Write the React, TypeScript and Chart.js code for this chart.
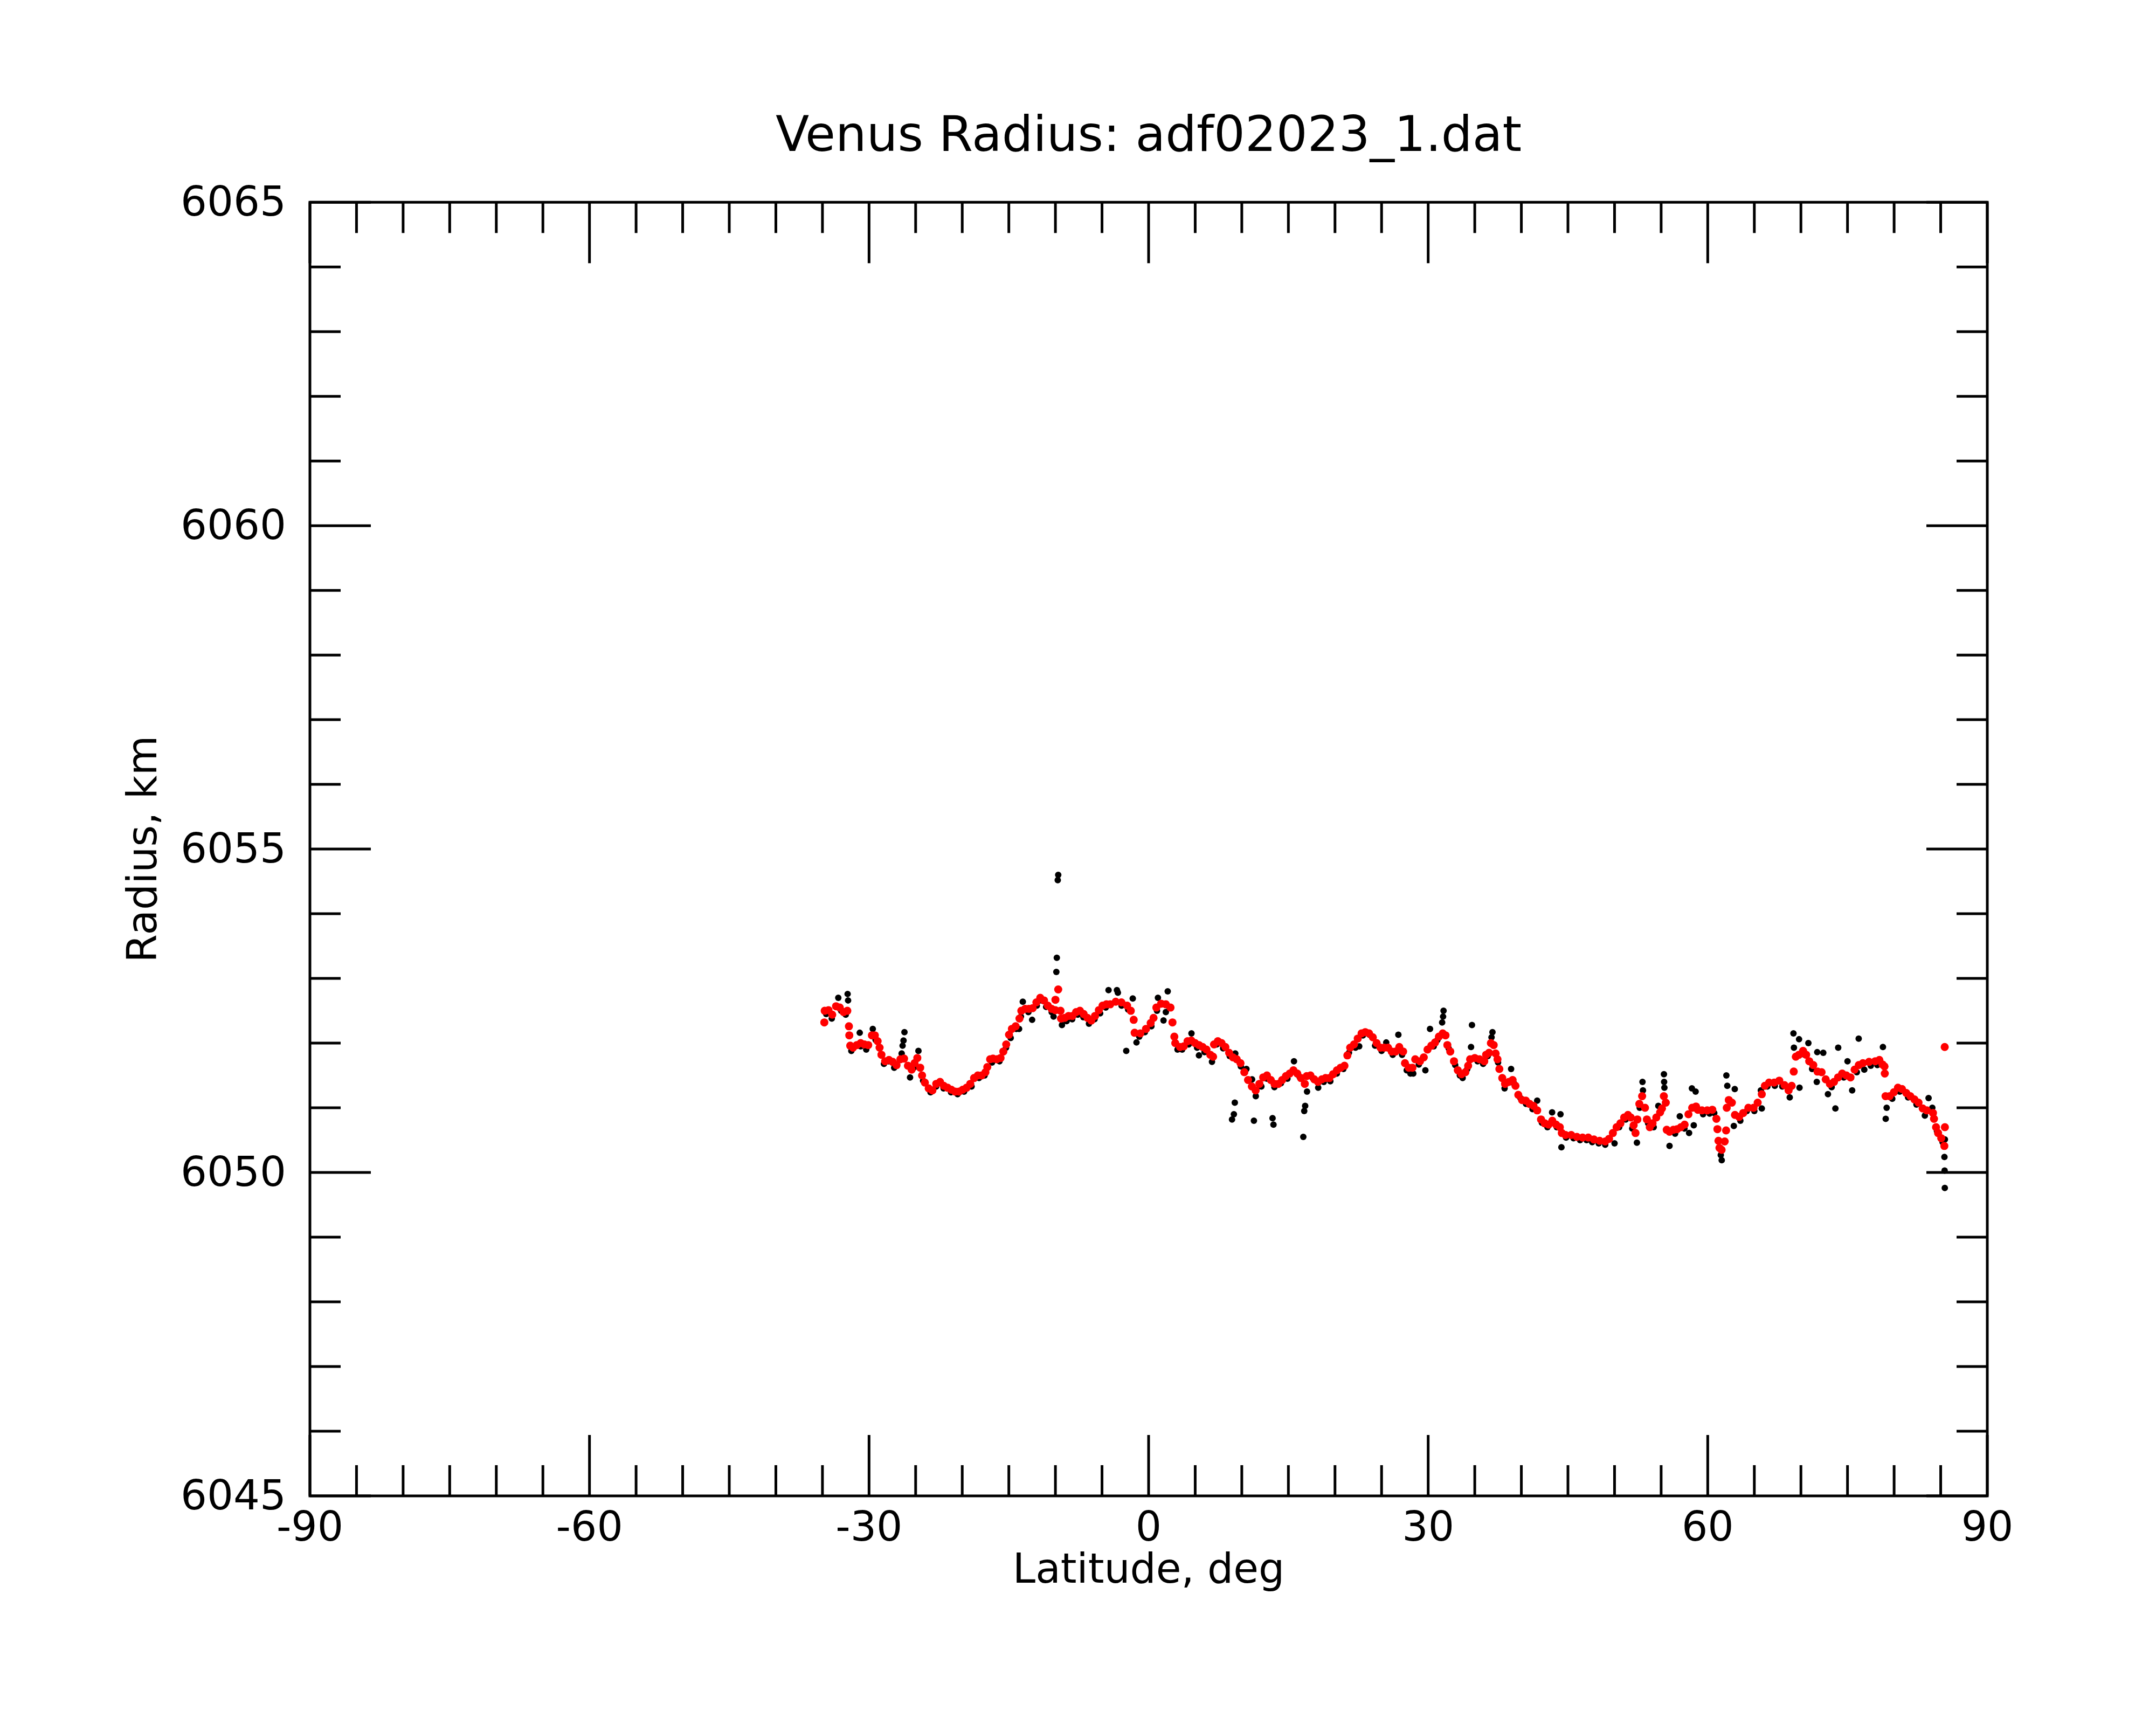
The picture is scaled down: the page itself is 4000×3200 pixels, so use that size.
import { useEffect, useRef } from "react";
import { Chart, registerables } from "chart.js";
import type { Plugin } from "chart.js";

Chart.register(...registerables);

const TITLE = "Venus Radius: adf02023_1.dat";
const X_TITLE = "Latitude, deg";
const Y_TITLE = "Radius, km";
const FONT = "'DejaVu Sans', 'Noto Sans', sans-serif";

// smoothed profile (red)
const smoothLat = [
  -34.8, -34.76, -34.35, -33.95, -33.54, -33.14, -32.73, -32.33, -32.16, -32.12,
  -32.02, -31.72, -31.31, -30.9, -30.5, -30.09, -29.69, -29.38, -29.08, -28.87,
  -28.67, -28.27, -27.86, -27.46, -27.05, -26.64, -26.24, -25.83, -25.43, -25.12,
  -24.82, -24.51, -24.31, -24.01, -23.6, -23.2, -22.79, -22.38, -21.98, -21.57,
  -21.17, -20.76, -20.35, -19.95, -19.54, -19.14, -18.73, -18.33, -17.92, -17.51,
  -17.31, -17.01, -16.7, -16.3, -15.89, -15.59, -15.28, -14.98, -14.67, -14.27,
  -13.86, -13.66, -13.25, -12.85, -12.44, -12.04, -11.63, -11.22, -10.82, -10.41,
  -10.01, -10.0, -9.7, -9.45, -9.4, -9.0, -8.59, -8.18, -7.78, -7.37,
  -6.97, -6.56, -6.15, -5.75, -5.34, -4.94, -4.53, -4.12, -3.53, -2.92,
  -2.31, -1.91, -1.6, -1.5, -0.89, -0.28, 0.22, 0.53, 0.83, 1.34,
  1.85, 2.35, 2.56, 2.76, 2.86, 3.37, 3.77, 4.18, 4.59, 4.99,
  5.4, 5.8, 6.21, 6.62, 6.92, 7.02, 7.43, 7.83, 8.24, 8.64,
  9.05, 9.46, 9.86, 10.27, 10.67, 11.08, 11.49, 11.89, 12.3, 12.7,
  13.11, 13.51, 13.92, 14.33, 14.73, 15.14, 15.54, 15.95, 16.35, 16.76,
  16.96, 17.37, 17.78, 18.18, 18.59, 18.99, 19.4, 19.8, 20.21, 20.61,
  21.02, 21.33, 21.63, 22.04, 22.44, 22.85, 23.25, 23.66, 24.06, 24.47,
  24.88, 25.28, 25.69, 26.09, 26.5, 26.9, 27.31, 27.51, 27.92, 28.31,
  28.61, 29.12, 29.53, 29.93, 30.34, 30.74, 31.15, 31.56, 31.86, 32.06,
  32.37, 32.77, 33.18, 33.58, 33.99, 34.29, 34.5, 35.0, 35.51, 36.02,
  36.22, 36.53, 36.73, 37.03, 37.24, 37.44, 37.64, 37.95, 38.25, 38.66,
  39.06, 39.37, 39.67, 40.08, 40.48, 40.89, 41.3, 41.7, 42.11, 42.51,
  42.92, 43.32, 43.73, 44.13, 44.34, 44.74, 45.35, 45.96, 46.57, 47.18,
  47.79, 48.4, 49.0, 49.41, 49.82, 50.22, 50.63, 51.03, 51.44, 51.74,
  52.05, 52.25, 52.45, 52.66, 52.96, 53.27, 53.47, 53.78, 54.08, 54.48,
  54.89, 55.09, 55.29, 55.5, 55.6, 55.9, 56.31, 56.71, 57.12, 57.52,
  57.93, 58.33, 58.74, 58.94, 59.38, 59.94, 60.49, 60.93, 61.04, 61.15,
  61.26, 61.49, 61.82, 61.97, 62.04, 62.26, 62.59, 62.92, 63.37, 63.81,
  64.36, 64.92, 65.36, 65.8, 66.13, 66.58, 67.13, 67.68, 68.24, 68.68,
  69.01, 69.23, 69.45, 69.79, 70.23, 70.56, 70.89, 71.33, 71.78, 72.22,
  72.66, 73.11, 73.55, 73.99, 74.43, 74.88, 75.32, 75.76, 76.21, 76.65,
  77.31, 77.98, 78.42, 78.75, 78.97, 79.0, 79.08, 79.52, 79.97, 80.41,
  80.85, 81.3, 81.74, 82.18, 82.62, 83.07, 83.51, 84.17, 84.28, 84.5,
  84.72, 85.06, 85.39, 85.45, 85.43,
];
const smoothRadius = [
  6052.32, 6052.5, 6052.51, 6052.44, 6052.57, 6052.55, 6052.48, 6052.5, 6052.26, 6052.12,
  6051.96, 6051.93, 6051.97, 6052.0, 6051.98, 6051.97, 6052.12, 6052.12, 6052.03, 6051.93,
  6051.82, 6051.72, 6051.74, 6051.71, 6051.66, 6051.75, 6051.76, 6051.65, 6051.59, 6051.69,
  6051.77, 6051.62, 6051.5, 6051.39, 6051.3, 6051.27, 6051.37, 6051.4, 6051.34, 6051.31,
  6051.28, 6051.25, 6051.25, 6051.28, 6051.31, 6051.37, 6051.46, 6051.5, 6051.5, 6051.55,
  6051.63, 6051.75, 6051.76, 6051.75, 6051.77, 6051.87, 6051.98, 6052.13, 6052.22, 6052.26,
  6052.38, 6052.5, 6052.53, 6052.53, 6052.54, 6052.63, 6052.7, 6052.66, 6052.58, 6052.53,
  6052.51, 6052.67, 6052.83, 6052.5, 6052.38, 6052.39, 6052.42, 6052.42, 6052.48, 6052.5,
  6052.45, 6052.39, 6052.35, 6052.42, 6052.51, 6052.58, 6052.6, 6052.6, 6052.64, 6052.63,
  6052.58, 6052.5, 6052.36, 6052.16, 6052.15, 6052.22, 6052.31, 6052.39, 6052.55, 6052.61,
  6052.6, 6052.55, 6052.32, 6052.1, 6052.0, 6051.94, 6051.95, 6052.03, 6052.04, 6052.0,
  6051.97, 6051.94, 6051.9, 6051.82, 6051.79, 6051.98, 6052.03, 6052.0, 6051.94, 6051.85,
  6051.78, 6051.75, 6051.69, 6051.55, 6051.43, 6051.33, 6051.27, 6051.37, 6051.47, 6051.5,
  6051.43, 6051.37, 6051.37, 6051.43, 6051.49, 6051.53, 6051.58, 6051.53, 6051.46, 6051.37,
  6051.49, 6051.5, 6051.44, 6051.4, 6051.44, 6051.46, 6051.46, 6051.52, 6051.58, 6051.62,
  6051.65, 6051.81, 6051.93, 6051.98, 6052.07, 6052.15, 6052.17, 6052.15, 6052.09, 6052.0,
  6051.93, 6051.93, 6051.93, 6051.87, 6051.87, 6051.94, 6051.87, 6051.69, 6051.62, 6051.62,
  6051.75, 6051.72, 6051.78, 6051.9, 6051.96, 6052.01, 6052.1, 6052.15, 6052.12, 6051.97,
  6051.87, 6051.72, 6051.58, 6051.52, 6051.55, 6051.65, 6051.75, 6051.77, 6051.75, 6051.72,
  6051.82, 6051.85, 6052.0, 6051.97, 6051.84, 6051.75, 6051.6, 6051.46, 6051.37, 6051.4,
  6051.43, 6051.34, 6051.2, 6051.12, 6051.11, 6051.06, 6051.03, 6050.96, 6050.82, 6050.76,
  6050.74, 6050.8, 6050.74, 6050.7, 6050.61, 6050.58, 6050.58, 6050.55, 6050.54, 6050.54,
  6050.51, 6050.49, 6050.48, 6050.52, 6050.61, 6050.7, 6050.76, 6050.85, 6050.89, 6050.85,
  6050.73, 6050.61, 6050.82, 6051.06, 6051.18, 6051.0, 6050.82, 6050.7, 6050.76, 6050.85,
  6050.93, 6050.99, 6051.18, 6051.08, 6050.66, 6050.63, 6050.66, 6050.67, 6050.7, 6050.74,
  6050.9, 6051.0, 6051.02, 6050.97, 6050.96, 6050.96, 6050.97, 6050.83, 6050.67, 6050.49,
  6050.38, 6050.35, 6050.48, 6050.65, 6051.0, 6051.12, 6051.08, 6050.89, 6050.86, 6050.92,
  6051.0, 6051.0, 6051.08, 6051.21, 6051.34, 6051.39, 6051.39, 6051.42, 6051.35, 6051.27,
  6051.34, 6051.56, 6051.79, 6051.82, 6051.88, 6051.82, 6051.72, 6051.66, 6051.56, 6051.55,
  6051.44, 6051.37, 6051.4, 6051.47, 6051.53, 6051.5, 6051.47, 6051.59, 6051.66, 6051.69,
  6051.71, 6051.72, 6051.74, 6051.67, 6051.64, 6051.53, 6051.18, 6051.18, 6051.24, 6051.31,
  6051.29, 6051.23, 6051.18, 6051.13, 6051.08, 6050.99, 6050.96, 6050.92, 6050.83, 6050.7,
  6050.61, 6050.53, 6050.41, 6050.7, 6051.94,
];

// raw measurements (black)
const rawLat = [
  -34.6, -34.0, -33.3, -33.0, -32.5, -32.3, -32.25, -31.9, -31.0, -30.9,
  -30.3, -29.6, -29.3, -28.4, -27.9, -27.3, -26.5, -26.4, -26.3, -26.2,
  -25.6, -25.2, -24.7, -24.2, -23.4, -22.8, -22.0, -21.2, -20.5, -19.8,
  -19.0, -18.2, -17.6, -16.8, -16.0, -15.3, -14.8, -14.2, -13.9, -13.7,
  -13.5, -12.9, -12.5, -12.0, -11.5, -11.0, -10.4, -10.2, -9.9, -9.85,
  -9.75, -9.7, -9.3, -8.8, -8.2, -7.6, -7.0, -6.4, -5.8, -5.2,
  -4.6, -4.3, -3.4, -3.3, -2.9, -2.4, -2.2, -1.7, -1.3, -1.0,
  -0.4, 0.3, 0.9, 1.0, 1.6, 1.85, 2.05, 2.2, 3.1, 3.6,
  4.3, 4.6, 5.2, 5.4, 6.0, 6.8, 7.3, 8.0, 8.7, 8.95,
  9.15, 9.25, 9.3, 9.9, 10.5, 11.1, 11.3, 11.5, 12.1, 12.7,
  13.3, 13.4, 13.5, 14.2, 14.9, 15.6, 16.2, 16.6, 16.7, 16.8,
  17.0, 17.6, 18.2, 18.8, 19.5, 20.2, 20.9, 21.5, 22.2, 22.6,
  23.0, 23.7, 24.3, 25.0, 25.5, 26.2, 26.8, 27.2, 27.7, 28.1,
  28.4, 29.0, 29.7, 30.2, 30.6, 31.0, 31.5, 31.6, 31.65, 32.2,
  32.9, 33.4, 33.7, 34.2, 34.6, 34.7, 35.3, 35.9, 36.4, 36.8,
  36.9, 37.5, 38.2, 38.9, 39.2, 39.9, 40.5, 41.2, 41.7, 42.2,
  42.8, 43.3, 43.8, 44.2, 44.3, 44.8, 45.6, 46.3, 47.0, 47.6,
  48.3, 49.0, 50.0, 50.5, 51.2, 51.9, 52.4, 52.7, 53.0, 53.05,
  53.6, 54.2, 54.7, 55.3, 55.32, 55.35, 55.9, 56.5, 57.0, 57.5,
  58.0, 58.3, 58.5, 58.7, 59.5, 60.2, 60.7, 61.4, 61.5, 62.0,
  62.1, 62.8, 62.9, 63.5, 64.2, 65.0, 65.7, 65.8, 66.4, 67.2,
  68.0, 68.8, 69.2, 69.25, 69.8, 69.85, 70.4, 70.8, 71.2, 71.7,
  71.75, 72.4, 72.9, 73.3, 73.7, 74.0, 74.6, 75.0, 75.5, 76.0,
  76.2, 76.8, 77.5, 78.2, 78.8, 79.1, 79.2, 79.8, 80.6, 81.5,
  82.4, 83.3, 83.7, 84.1, 84.6, 85.2, 85.4, 85.42, 85.44, 85.45,
];
const rawRadius = [
  6052.45, 6052.38, 6052.7, 6052.5, 6052.44, 6052.76, 6052.66, 6051.88, 6052.16, 6051.95,
  6051.9, 6052.22, 6052.05, 6051.68, 6051.72, 6051.62, 6051.84, 6051.96, 6052.04, 6052.17,
  6051.47, 6051.62, 6051.88, 6051.42, 6051.24, 6051.33, 6051.3, 6051.24, 6051.21, 6051.25,
  6051.33, 6051.46, 6051.5, 6051.7, 6051.72, 6051.93, 6052.08, 6052.22, 6052.22, 6052.41,
  6052.64, 6052.48, 6052.36, 6052.58, 6052.66, 6052.56, 6052.48, 6052.41, 6053.1, 6053.32,
  6054.52, 6054.6, 6052.28, 6052.34, 6052.37, 6052.44, 6052.4, 6052.3, 6052.37, 6052.46,
  6052.55, 6052.82, 6052.82, 6052.78, 6052.58, 6051.88, 6052.52, 6052.69, 6052.01, 6052.1,
  6052.17, 6052.26, 6052.5, 6052.7, 6052.35, 6052.48, 6052.8, 6052.56, 6051.9, 6051.9,
  6051.98, 6052.15, 6051.93, 6051.81, 6051.86, 6051.71, 6051.98, 6051.92, 6051.8, 6050.82,
  6050.9, 6051.08, 6051.84, 6051.64, 6051.6, 6051.44, 6050.8, 6051.18, 6051.33, 6051.45,
  6050.84, 6050.74, 6051.32, 6051.38, 6051.45, 6051.72, 6051.48, 6050.55, 6050.95, 6051.03,
  6051.25, 6051.46, 6051.31, 6051.4, 6051.41, 6051.53, 6051.6, 6051.85, 6051.93, 6051.95,
  6052.12, 6052.13, 6051.96, 6051.88, 6052.01, 6051.82, 6052.13, 6051.82, 6051.58, 6051.53,
  6051.53, 6051.67, 6051.58, 6052.22, 6051.95, 6052.05, 6052.32, 6052.41, 6052.5, 6051.92,
  6051.66, 6051.5, 6051.46, 6051.6, 6051.94, 6052.28, 6051.72, 6051.68, 6051.8, 6052.09,
  6052.17, 6051.7, 6051.3, 6051.6, 6051.38, 6051.15, 6051.06, 6050.98, 6051.11, 6050.77,
  6050.7, 6050.93, 6050.7, 6050.9, 6050.39, 6050.54, 6050.53, 6050.5, 6050.5, 6050.47,
  6050.45, 6050.43, 6050.45, 6050.7, 6050.82, 6050.68, 6050.46, 6051.0, 6051.4, 6051.27,
  6050.76, 6050.7, 6051.03, 6051.52, 6051.4, 6051.31, 6050.41, 6050.6, 6050.87, 6050.68,
  6050.61, 6051.3, 6050.73, 6051.25, 6050.9, 6050.91, 6050.92, 6050.27, 6050.19, 6051.5,
  6051.34, 6050.72, 6051.29, 6050.8, 6050.95, 6050.95, 6051.27, 6050.99, 6051.33, 6051.34,
  6051.33, 6051.16, 6052.15, 6051.93, 6052.06, 6051.31, 6051.82, 6052.0, 6051.6, 6051.4,
  6051.86, 6051.85, 6051.21, 6051.32, 6050.99, 6051.93, 6051.47, 6051.72, 6051.27, 6051.55,
  6052.07, 6051.59, 6051.65, 6051.66, 6051.94, 6050.83, 6051.0, 6051.14, 6051.25, 6051.16,
  6051.05, 6050.88, 6051.15, 6051.0, 6050.64, 6050.47, 6050.24, 6050.03, 6049.76, 6050.51,
];

const xMajor = [-90, -60, -30, 0, 30, 60, 90];
const yMajor = [6045, 6050, 6055, 6060, 6065];

const toPoints = (xs: number[], ys: number[]) => xs.map((x, i) => ({ x, y: ys[i] }));

// IDL-style frame with inward ticks on all four sides
const frameTicks: Plugin = {
  id: "frameTicks",
  afterDraw(chart) {
    const { ctx, chartArea: a } = chart;
    const xs = chart.scales.x;
    const ys = chart.scales.y;
    const major = 113;
    const minor = 57;
    ctx.save();
    ctx.strokeStyle = "#000";
    ctx.lineWidth = 5;
    ctx.lineCap = "butt";
    ctx.strokeRect(a.left, a.top, a.right - a.left, a.bottom - a.top);
    ctx.beginPath();
    for (let v = -90; v <= 90; v += 5) {
      const px = xs.getPixelForValue(v);
      const len = xMajor.includes(v) ? major : minor;
      ctx.moveTo(px, a.bottom);
      ctx.lineTo(px, a.bottom - len);
      ctx.moveTo(px, a.top);
      ctx.lineTo(px, a.top + len);
    }
    for (let v = 6045; v <= 6065; v += 1) {
      const py = ys.getPixelForValue(v);
      const len = yMajor.includes(v) ? major : minor;
      ctx.moveTo(a.left, py);
      ctx.lineTo(a.left + len, py);
      ctx.moveTo(a.right, py);
      ctx.lineTo(a.right - len, py);
    }
    ctx.stroke();
    ctx.restore();
  },
};

export default function App() {
  const canvasRef = useRef<HTMLCanvasElement | null>(null);

  useEffect(() => {
    const canvas = canvasRef.current;
    if (!canvas) return;
    const chart = new Chart(canvas, {
      type: "scatter",
      data: {
        datasets: [
          {
            label: "smoothed",
            data: toPoints(smoothLat, smoothRadius),
            backgroundColor: "#ff0000",
            borderWidth: 0,
            pointRadius: 7.5,
            order: 0,
          },
          {
            label: "raw",
            data: toPoints(rawLat, rawRadius),
            backgroundColor: "#000000",
            borderWidth: 0,
            pointRadius: 6,
            order: 1,
          },
        ],
      },
      options: {
        responsive: false,
        animation: false,
        devicePixelRatio: 1,
        layout: { padding: { top: 0, right: 313, bottom: 0, left: 0 } },
        plugins: {
          legend: { display: false },
          tooltip: { enabled: false },
          title: {
            display: true,
            text: TITLE,
            fullSize: false,
            color: "#000",
            font: { family: FONT, size: 91, weight: "normal" },
            padding: { top: 202, bottom: 64 },
          },
        },
        scales: {
          x: {
            type: "linear",
            min: -90,
            max: 90,
            afterFit: (s) => {
              s.height = 425;
            },
            grid: { display: false },
            border: { display: false },
            ticks: {
              stepSize: 30,
              padding: 10,
              color: "#000",
              maxRotation: 0,
              autoSkip: false,
              font: { family: FONT, size: 76 },
              callback: (v) => String(v),
            },
            title: {
              display: true,
              text: X_TITLE,
              color: "#000",
              font: { family: FONT, size: 76 },
              padding: { top: 0, bottom: 238 },
            },
          },
          y: {
            type: "linear",
            min: 6045,
            max: 6065,
            afterFit: (s) => {
              s.width = 575;
            },
            grid: { display: false },
            border: { display: false },
            ticks: {
              stepSize: 5,
              padding: 36,
              labelOffset: 5,
              color: "#000",
              autoSkip: false,
              font: { family: FONT, size: 77 },
              callback: (v) => String(v),
            },
            title: {
              display: true,
              text: Y_TITLE,
              color: "#000",
              font: { family: FONT, size: 76 },
              padding: { top: 225, bottom: 0 },
            },
          },
        },
      },
      plugins: [frameTicks],
    });
    return () => chart.destroy();
  }, []);

  return (
    <div style={{ position: "absolute", left: 0, top: 0, width: 4000, height: 3200, background: "#fff" }}>
      <canvas ref={canvasRef} width={4000} height={3200} style={{ display: "block" }} />
    </div>
  );
}
